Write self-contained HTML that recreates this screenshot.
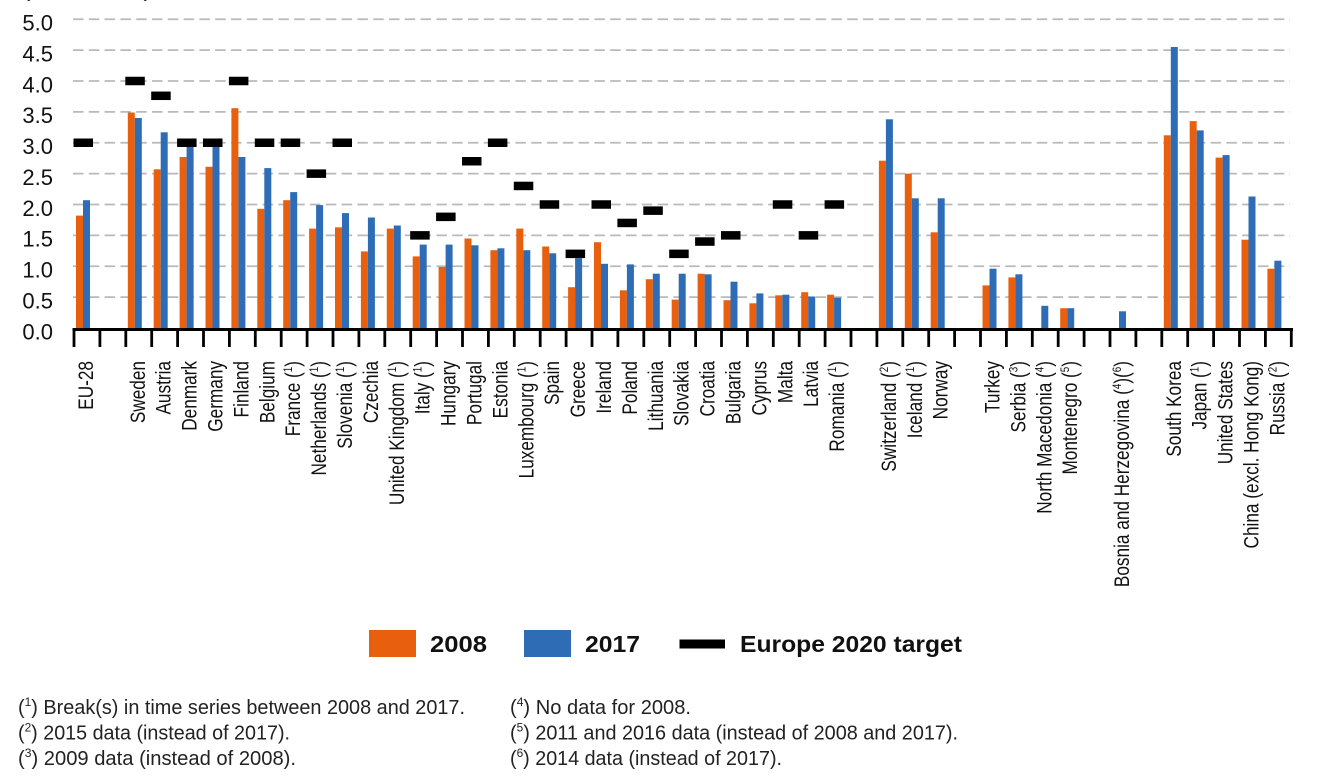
<!DOCTYPE html>
<html>
<head>
<meta charset="utf-8">
<style>
html,body{margin:0;padding:0;background:#fff;}
svg{display:block;}
text{font-family:"Liberation Sans",Arial,sans-serif;}
</style>
</head>
<body>
<svg width="1326" height="777" viewBox="0 0 1326 777" xmlns="http://www.w3.org/2000/svg">
<rect x="0" y="0" width="1326" height="777" fill="#fff"/>
<text x="22" y="-3" font-size="20" fill="#222" textLength="130" lengthAdjust="spacingAndGlyphs">(% of GDP)</text>

<!-- gridlines -->
<g stroke="#b9b9b9" stroke-width="1.8" stroke-dasharray="10.5,5.3" fill="none">
<line x1="73" y1="19.25" x2="1290" y2="19.25"/>
<line x1="73" y1="50.1" x2="1290" y2="50.1"/>
<line x1="73" y1="81" x2="1290" y2="81"/>
<line x1="73" y1="111.9" x2="1290" y2="111.9"/>
<line x1="73" y1="142.75" x2="1290" y2="142.75"/>
<line x1="73" y1="173.6" x2="1290" y2="173.6"/>
<line x1="73" y1="204.5" x2="1290" y2="204.5"/>
<line x1="73" y1="235.4" x2="1290" y2="235.4"/>
<line x1="73" y1="266.25" x2="1290" y2="266.25"/>
<line x1="73" y1="297.1" x2="1290" y2="297.1"/>
</g>

<!-- y labels -->
<g font-size="22" fill="#111" text-anchor="end">
<text x="53" y="30.5">5.0</text>
<text x="53" y="61.4">4.5</text>
<text x="53" y="92.3">4.0</text>
<text x="53" y="123.2">3.5</text>
<text x="53" y="154">3.0</text>
<text x="53" y="184.9">2.5</text>
<text x="53" y="215.8">2.0</text>
<text x="53" y="246.7">1.5</text>
<text x="53" y="277.5">1.0</text>
<text x="53" y="308.4">0.5</text>
<text x="53" y="339.3">0.0</text>
</g>

<!-- 2008 bars -->
<g fill="#E8600E">
<rect x="76" y="215.6" width="7" height="112.4"/>
<rect x="127.8" y="112.5" width="7" height="215.5"/>
<rect x="153.7" y="169.3" width="7" height="158.7"/>
<rect x="179.6" y="157" width="7" height="171"/>
<rect x="205.5" y="166.8" width="7" height="161.2"/>
<rect x="231.4" y="108.2" width="7" height="219.8"/>
<rect x="257.3" y="208.8" width="7" height="119.2"/>
<rect x="283.2" y="200.2" width="7" height="127.8"/>
<rect x="309.1" y="228.6" width="7" height="99.4"/>
<rect x="335" y="227.3" width="7" height="100.7"/>
<rect x="360.9" y="251.4" width="7" height="76.6"/>
<rect x="386.8" y="228.6" width="7" height="99.4"/>
<rect x="412.7" y="256.4" width="7" height="71.6"/>
<rect x="438.6" y="266.9" width="7" height="61.1"/>
<rect x="464.5" y="238.5" width="7" height="89.5"/>
<rect x="490.4" y="250.2" width="7" height="77.8"/>
<rect x="516.3" y="228.6" width="7" height="99.4"/>
<rect x="542.2" y="246.5" width="7" height="81.5"/>
<rect x="568.1" y="287.2" width="7" height="40.8"/>
<rect x="594" y="242.2" width="7" height="85.8"/>
<rect x="619.9" y="290.3" width="7" height="37.7"/>
<rect x="645.8" y="279.2" width="7" height="48.8"/>
<rect x="671.7" y="299.6" width="7" height="28.4"/>
<rect x="697.6" y="273.7" width="7" height="54.3"/>
<rect x="723.5" y="300.2" width="7" height="27.8"/>
<rect x="749.4" y="303.3" width="7" height="24.7"/>
<rect x="775.3" y="295.3" width="7" height="32.7"/>
<rect x="801.2" y="292.2" width="7" height="35.8"/>
<rect x="827.1" y="294.7" width="7" height="33.3"/>
<rect x="878.9" y="160.7" width="7" height="167.3"/>
<rect x="904.8" y="173.6" width="7" height="154.4"/>
<rect x="930.7" y="232.3" width="7" height="95.7"/>
<rect x="982.5" y="285.4" width="7" height="42.6"/>
<rect x="1008.4" y="277.4" width="7" height="50.6"/>
<rect x="1060.2" y="308.2" width="7" height="19.8"/>
<rect x="1163.8" y="135.3" width="7" height="192.7"/>
<rect x="1189.7" y="121.1" width="7" height="206.9"/>
<rect x="1215.6" y="157.6" width="7" height="170.4"/>
<rect x="1241.5" y="239.7" width="7" height="88.3"/>
<rect x="1267.4" y="268.7" width="7" height="59.3"/>
</g>

<!-- 2017 bars -->
<g fill="#2E6CB5">
<rect x="83" y="200.2" width="7" height="127.8"/>
<rect x="134.8" y="118" width="7" height="210"/>
<rect x="160.7" y="132.3" width="7" height="195.7"/>
<rect x="186.6" y="142.75" width="7" height="185.25"/>
<rect x="212.5" y="142.75" width="7" height="185.25"/>
<rect x="238.4" y="157" width="7" height="171"/>
<rect x="264.3" y="168.1" width="7" height="159.9"/>
<rect x="290.2" y="192.1" width="7" height="135.9"/>
<rect x="316.1" y="205.1" width="7" height="122.9"/>
<rect x="342" y="213.1" width="7" height="114.9"/>
<rect x="367.9" y="217.5" width="7" height="110.5"/>
<rect x="393.8" y="225.5" width="7" height="102.5"/>
<rect x="419.7" y="244.6" width="7" height="83.4"/>
<rect x="445.6" y="244.6" width="7" height="83.4"/>
<rect x="471.5" y="245.3" width="7" height="82.7"/>
<rect x="497.4" y="248.3" width="7" height="79.7"/>
<rect x="523.3" y="250.2" width="7" height="77.8"/>
<rect x="549.2" y="253.3" width="7" height="74.7"/>
<rect x="575.1" y="258.2" width="7" height="69.8"/>
<rect x="601" y="263.8" width="7" height="64.2"/>
<rect x="626.9" y="264.4" width="7" height="63.6"/>
<rect x="652.8" y="273.7" width="7" height="54.3"/>
<rect x="678.7" y="273.7" width="7" height="54.3"/>
<rect x="704.6" y="274.3" width="7" height="53.7"/>
<rect x="730.5" y="281.7" width="7" height="46.3"/>
<rect x="756.4" y="293.4" width="7" height="34.6"/>
<rect x="782.3" y="294.7" width="7" height="33.3"/>
<rect x="808.2" y="296.5" width="7" height="31.5"/>
<rect x="834.1" y="297.7" width="7" height="30.3"/>
<rect x="885.9" y="119.3" width="7" height="208.7"/>
<rect x="911.8" y="198.3" width="7" height="129.7"/>
<rect x="937.7" y="198.3" width="7" height="129.7"/>
<rect x="989.5" y="268.7" width="7" height="59.3"/>
<rect x="1015.4" y="274.3" width="7" height="53.7"/>
<rect x="1041.3" y="305.8" width="7" height="22.2"/>
<rect x="1067.2" y="308.2" width="7" height="19.8"/>
<rect x="1119" y="311.3" width="7" height="16.7"/>
<rect x="1170.8" y="47" width="7" height="281"/>
<rect x="1196.7" y="130.4" width="7" height="197.6"/>
<rect x="1222.6" y="155.1" width="7" height="172.9"/>
<rect x="1248.5" y="196.5" width="7" height="131.5"/>
<rect x="1274.4" y="260.7" width="7" height="67.3"/>
</g>

<!-- targets -->
<g fill="#000">
<rect x="73.5" y="138.5" width="19.5" height="8.5"/>
<rect x="125.3" y="76.75" width="19.5" height="8.5"/>
<rect x="151.2" y="91.55" width="19.5" height="8.5"/>
<rect x="177.1" y="138.5" width="19.5" height="8.5"/>
<rect x="203" y="138.5" width="19.5" height="8.5"/>
<rect x="228.9" y="76.75" width="19.5" height="8.5"/>
<rect x="254.8" y="138.5" width="19.5" height="8.5"/>
<rect x="280.7" y="138.5" width="19.5" height="8.5"/>
<rect x="306.6" y="169.4" width="19.5" height="8.5"/>
<rect x="332.5" y="138.5" width="19.5" height="8.5"/>
<rect x="410.2" y="231.1" width="19.5" height="8.5"/>
<rect x="436.1" y="212.6" width="19.5" height="8.5"/>
<rect x="462" y="157" width="19.5" height="8.5"/>
<rect x="487.9" y="138.5" width="19.5" height="8.5"/>
<rect x="513.8" y="181.7" width="19.5" height="8.5"/>
<rect x="539.7" y="200.25" width="19.5" height="8.5"/>
<rect x="565.6" y="249.6" width="19.5" height="8.5"/>
<rect x="591.5" y="200.25" width="19.5" height="8.5"/>
<rect x="617.4" y="218.7" width="19.5" height="8.5"/>
<rect x="643.3" y="206.4" width="19.5" height="8.5"/>
<rect x="669.2" y="249.6" width="19.5" height="8.5"/>
<rect x="695.1" y="237.3" width="19.5" height="8.5"/>
<rect x="721" y="231.1" width="19.5" height="8.5"/>
<rect x="772.8" y="200.25" width="19.5" height="8.5"/>
<rect x="798.7" y="231.1" width="19.5" height="8.5"/>
<rect x="824.6" y="200.25" width="19.5" height="8.5"/>
</g>

<!-- axis -->
<rect x="72.5" y="328" width="1220.5" height="3" fill="#000"/>
<g fill="#000">
<rect x="72.6" y="328" width="2.8" height="19"/>
<rect x="98.5" y="328" width="2.8" height="19"/>
<rect x="124.4" y="328" width="2.8" height="19"/>
<rect x="150.3" y="328" width="2.8" height="19"/>
<rect x="176.2" y="328" width="2.8" height="19"/>
<rect x="202.1" y="328" width="2.8" height="19"/>
<rect x="228" y="328" width="2.8" height="19"/>
<rect x="253.9" y="328" width="2.8" height="19"/>
<rect x="279.8" y="328" width="2.8" height="19"/>
<rect x="305.7" y="328" width="2.8" height="19"/>
<rect x="331.6" y="328" width="2.8" height="19"/>
<rect x="357.5" y="328" width="2.8" height="19"/>
<rect x="383.4" y="328" width="2.8" height="19"/>
<rect x="409.3" y="328" width="2.8" height="19"/>
<rect x="435.2" y="328" width="2.8" height="19"/>
<rect x="461.1" y="328" width="2.8" height="19"/>
<rect x="487" y="328" width="2.8" height="19"/>
<rect x="512.9" y="328" width="2.8" height="19"/>
<rect x="538.8" y="328" width="2.8" height="19"/>
<rect x="564.7" y="328" width="2.8" height="19"/>
<rect x="590.6" y="328" width="2.8" height="19"/>
<rect x="616.5" y="328" width="2.8" height="19"/>
<rect x="642.4" y="328" width="2.8" height="19"/>
<rect x="668.3" y="328" width="2.8" height="19"/>
<rect x="694.2" y="328" width="2.8" height="19"/>
<rect x="720.1" y="328" width="2.8" height="19"/>
<rect x="746" y="328" width="2.8" height="19"/>
<rect x="771.9" y="328" width="2.8" height="19"/>
<rect x="797.8" y="328" width="2.8" height="19"/>
<rect x="823.7" y="328" width="2.8" height="19"/>
<rect x="849.6" y="328" width="2.8" height="19"/>
<rect x="875.5" y="328" width="2.8" height="19"/>
<rect x="901.4" y="328" width="2.8" height="19"/>
<rect x="927.3" y="328" width="2.8" height="19"/>
<rect x="953.2" y="328" width="2.8" height="19"/>
<rect x="979.1" y="328" width="2.8" height="19"/>
<rect x="1005" y="328" width="2.8" height="19"/>
<rect x="1030.9" y="328" width="2.8" height="19"/>
<rect x="1056.8" y="328" width="2.8" height="19"/>
<rect x="1082.7" y="328" width="2.8" height="19"/>
<rect x="1108.6" y="328" width="2.8" height="19"/>
<rect x="1134.5" y="328" width="2.8" height="19"/>
<rect x="1160.4" y="328" width="2.8" height="19"/>
<rect x="1186.3" y="328" width="2.8" height="19"/>
<rect x="1212.2" y="328" width="2.8" height="19"/>
<rect x="1238.1" y="328" width="2.8" height="19"/>
<rect x="1264" y="328" width="2.8" height="19"/>
<rect x="1289.9" y="328" width="2.8" height="19"/>
</g>

<!-- x labels -->
<g font-size="21" fill="#111" text-anchor="end">
<text transform="translate(93,361) rotate(-90) scale(0.82,1)">EU-28</text>
<text transform="translate(144.8,361) rotate(-90) scale(0.82,1)">Sweden</text>
<text transform="translate(170.7,361) rotate(-90) scale(0.82,1)">Austria</text>
<text transform="translate(196.6,361) rotate(-90) scale(0.82,1)">Denmark</text>
<text transform="translate(222.5,361) rotate(-90) scale(0.82,1)">Germany</text>
<text transform="translate(248.4,361) rotate(-90) scale(0.82,1)">Finland</text>
<text transform="translate(274.3,361) rotate(-90) scale(0.82,1)">Belgium</text>
<text transform="translate(300.2,361) rotate(-90) scale(0.82,1)">France (<tspan font-size="12" dy="-8">1</tspan><tspan dy="8">)</tspan></text>
<text transform="translate(326.1,361) rotate(-90) scale(0.82,1)">Netherlands (<tspan font-size="12" dy="-8">1</tspan><tspan dy="8">)</tspan></text>
<text transform="translate(352,361) rotate(-90) scale(0.82,1)">Slovenia (<tspan font-size="12" dy="-8">1</tspan><tspan dy="8">)</tspan></text>
<text transform="translate(377.9,361) rotate(-90) scale(0.82,1)">Czechia</text>
<text transform="translate(403.8,361) rotate(-90) scale(0.82,1)">United Kingdom (<tspan font-size="12" dy="-8">1</tspan><tspan dy="8">)</tspan></text>
<text transform="translate(429.7,361) rotate(-90) scale(0.82,1)">Italy (<tspan font-size="12" dy="-8">1</tspan><tspan dy="8">)</tspan></text>
<text transform="translate(455.6,361) rotate(-90) scale(0.82,1)">Hungary</text>
<text transform="translate(481.5,361) rotate(-90) scale(0.82,1)">Portugal</text>
<text transform="translate(507.4,361) rotate(-90) scale(0.82,1)">Estonia</text>
<text transform="translate(533.3,361) rotate(-90) scale(0.82,1)">Luxembourg (<tspan font-size="12" dy="-8">1</tspan><tspan dy="8">)</tspan></text>
<text transform="translate(559.2,361) rotate(-90) scale(0.82,1)">Spain</text>
<text transform="translate(585.1,361) rotate(-90) scale(0.82,1)">Greece</text>
<text transform="translate(611,361) rotate(-90) scale(0.82,1)">Ireland</text>
<text transform="translate(636.9,361) rotate(-90) scale(0.82,1)">Poland</text>
<text transform="translate(662.8,361) rotate(-90) scale(0.82,1)">Lithuania</text>
<text transform="translate(688.7,361) rotate(-90) scale(0.82,1)">Slovakia</text>
<text transform="translate(714.6,361) rotate(-90) scale(0.82,1)">Croatia</text>
<text transform="translate(740.5,361) rotate(-90) scale(0.82,1)">Bulgaria</text>
<text transform="translate(766.4,361) rotate(-90) scale(0.82,1)">Cyprus</text>
<text transform="translate(792.3,361) rotate(-90) scale(0.82,1)">Malta</text>
<text transform="translate(818.2,361) rotate(-90) scale(0.82,1)">Latvia</text>
<text transform="translate(844.1,361) rotate(-90) scale(0.82,1)">Romania (<tspan font-size="12" dy="-8">1</tspan><tspan dy="8">)</tspan></text>
<text transform="translate(895.9,361) rotate(-90) scale(0.82,1)">Switzerland (<tspan font-size="12" dy="-8">2</tspan><tspan dy="8">)</tspan></text>
<text transform="translate(921.8,361) rotate(-90) scale(0.82,1)">Iceland (<tspan font-size="12" dy="-8">1</tspan><tspan dy="8">)</tspan></text>
<text transform="translate(947.7,361) rotate(-90) scale(0.82,1)">Norway</text>
<text transform="translate(999.5,361) rotate(-90) scale(0.82,1)">Turkey</text>
<text transform="translate(1025.4,361) rotate(-90) scale(0.82,1)">Serbia (<tspan font-size="12" dy="-8">3</tspan><tspan dy="8">)</tspan></text>
<text transform="translate(1051.3,361) rotate(-90) scale(0.82,1)">North Macedonia (<tspan font-size="12" dy="-8">4</tspan><tspan dy="8">)</tspan></text>
<text transform="translate(1077.2,361) rotate(-90) scale(0.82,1)">Montenegro (<tspan font-size="12" dy="-8">5</tspan><tspan dy="8">)</tspan></text>
<text transform="translate(1129,361) rotate(-90) scale(0.82,1)">Bosnia and Herzegovina (<tspan font-size="12" dy="-8">4</tspan><tspan dy="8">)(</tspan><tspan font-size="12" dy="-8">6</tspan><tspan dy="8">)</tspan></text>
<text transform="translate(1180.8,361) rotate(-90) scale(0.82,1)">South Korea</text>
<text transform="translate(1206.7,361) rotate(-90) scale(0.82,1)">Japan (<tspan font-size="12" dy="-8">1</tspan><tspan dy="8">)</tspan></text>
<text transform="translate(1232.6,361) rotate(-90) scale(0.82,1)">United States</text>
<text transform="translate(1258.5,361) rotate(-90) scale(0.82,1)">China (excl. Hong Kong)</text>
<text transform="translate(1284.4,361) rotate(-90) scale(0.82,1)">Russia (<tspan font-size="12" dy="-8">2</tspan><tspan dy="8">)</tspan></text>
</g>

<!-- legend -->
<rect x="369" y="630" width="47" height="27" fill="#E8600E"/>
<text x="430" y="652" font-size="23" font-weight="bold" fill="#111" textLength="57" lengthAdjust="spacingAndGlyphs">2008</text>
<rect x="524" y="630" width="47" height="27" fill="#2E6CB5"/>
<text x="585" y="652" font-size="23" font-weight="bold" fill="#111" textLength="55" lengthAdjust="spacingAndGlyphs">2017</text>
<rect x="679.5" y="639.5" width="45.5" height="9" fill="#000"/>
<text x="740" y="652" font-size="23" font-weight="bold" fill="#111" textLength="222" lengthAdjust="spacingAndGlyphs">Europe 2020 target</text>

<!-- footnotes -->
<g font-size="20" fill="#222">
<text x="18" y="714" textLength="447" lengthAdjust="spacingAndGlyphs">(<tspan font-size="12" dy="-8">1</tspan><tspan dy="8">) Break(s) in time series between 2008 and 2017.</tspan></text>
<text x="18" y="739.5" textLength="272" lengthAdjust="spacingAndGlyphs">(<tspan font-size="12" dy="-8">2</tspan><tspan dy="8">) 2015 data (instead of 2017).</tspan></text>
<text x="18" y="765" textLength="278" lengthAdjust="spacingAndGlyphs">(<tspan font-size="12" dy="-8">3</tspan><tspan dy="8">) 2009 data (instead of 2008).</tspan></text>
<text x="510" y="714" textLength="181" lengthAdjust="spacingAndGlyphs">(<tspan font-size="12" dy="-8">4</tspan><tspan dy="8">) No data for 2008.</tspan></text>
<text x="510" y="739.5" textLength="448" lengthAdjust="spacingAndGlyphs">(<tspan font-size="12" dy="-8">5</tspan><tspan dy="8">) 2011 and 2016 data (instead of 2008 and 2017).</tspan></text>
<text x="510" y="765" textLength="272" lengthAdjust="spacingAndGlyphs">(<tspan font-size="12" dy="-8">6</tspan><tspan dy="8">) 2014 data (instead of 2017).</tspan></text>
</g>
</svg>
</body>
</html>
